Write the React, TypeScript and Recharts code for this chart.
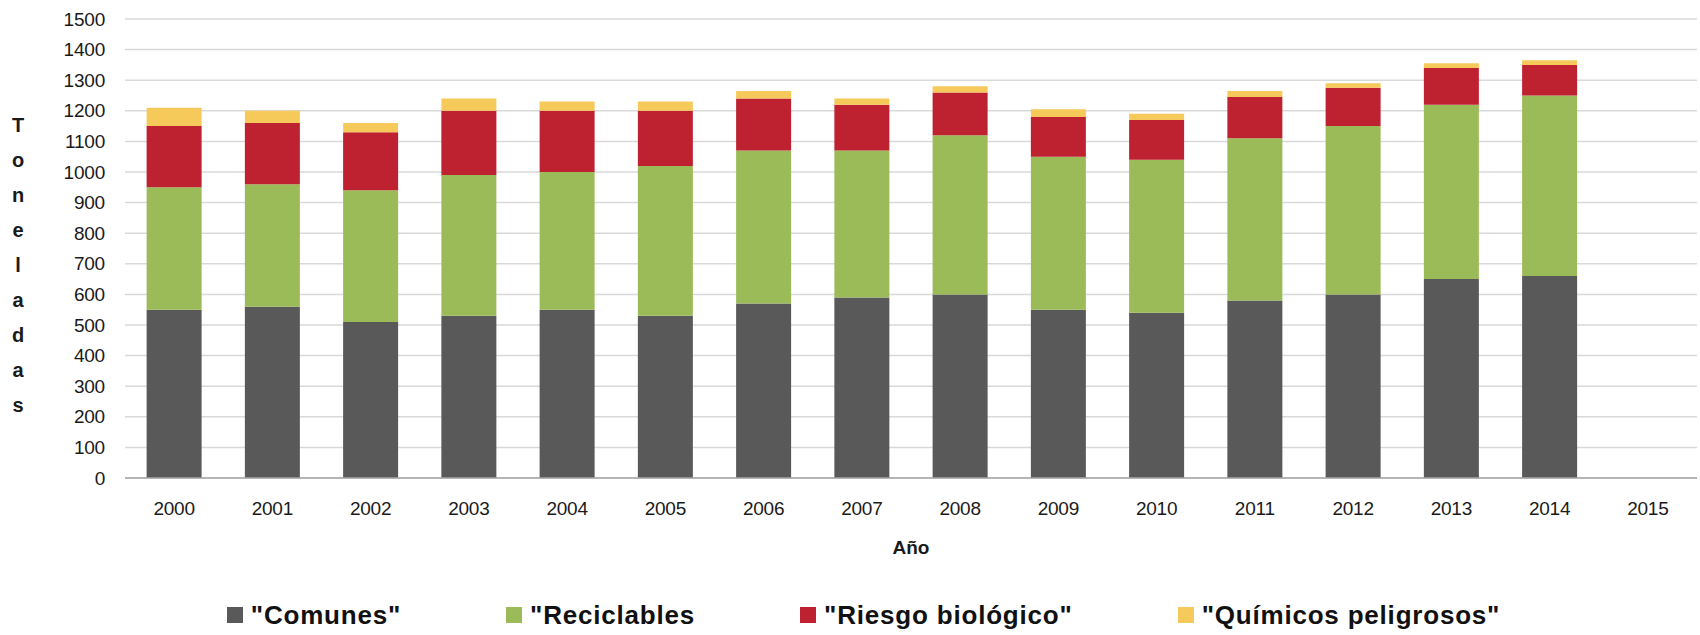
import { BarChart, Bar, XAxis, YAxis, CartesianGrid, Legend } from 'recharts';

const years = ['2000', '2001', '2002', '2003', '2004', '2005', '2006', '2007', '2008', '2009', '2010', '2011', '2012', '2013', '2014', '2015'];
const comunes = [550, 560, 510, 530, 550, 530, 570, 590, 600, 550, 540, 580, 600, 650, 660, null];
const reciclables = [400, 400, 430, 460, 450, 490, 500, 480, 520, 500, 500, 530, 550, 570, 590, null];
const riesgo = [200, 200, 190, 210, 200, 180, 170, 150, 140, 130, 130, 135, 125, 120, 100, null];
const quimicos = [60, 40, 30, 40, 30, 30, 25, 20, 20, 25, 20, 20, 15, 15, 15, null];
const yTicks = [0, 100, 200, 300, 400, 500, 600, 700, 800, 900, 1000, 1100, 1200, 1300, 1400, 1500];

const series = [
    { key: 'comunes', name: '"Comunes"', color: '#595959' },
    { key: 'reciclables', name: '"Reciclables', color: '#9BBB59' },
    { key: 'riesgo', name: '"Riesgo biológico"', color: '#BE2130' },
    { key: 'quimicos', name: '"Químicos peligrosos"', color: '#F6CA5A' },
];

const data = years.map((y, i) => ({
    year: y,
    comunes: comunes[i],
    reciclables: reciclables[i],
    riesgo: riesgo[i],
    quimicos: quimicos[i],
}));

const FONT = '"Liberation Sans", Arial, sans-serif';

/* eslint-disable @typescript-eslint/no-explicit-any */
function XTick({ x, y, payload }: any) {
    return (
        <text x={x} y={y + 28} textAnchor="middle" dominantBaseline="central" fontSize={19} fill="#1a1a1a" fontFamily={FONT} letterSpacing={-0.2}>
            {payload.value}
        </text>
    );
}

function YTick({ x, y, payload }: any) {
    return (
        <text x={x} y={y} textAnchor="end" dominantBaseline="central" fontSize={19} fill="#1a1a1a" fontFamily={FONT} letterSpacing={-0.2}>
            {payload.value}
        </text>
    );
}

function YLabel({ viewBox }: any) {
    const letters = 'Toneladas'.split('');
    const cy = viewBox.y + viewBox.height / 2 + 16;
    return (
        <g>
            {letters.map((ch, i) => (
                <text
                    key={i}
                    x={18}
                    y={cy + (i - 4) * 35}
                    textAnchor="middle"
                    dominantBaseline="central"
                    fontSize={20}
                    fontWeight="bold"
                    fill="#1a1a1a"
                    fontFamily={FONT}
                >
                    {ch}
                </text>
            ))}
        </g>
    );
}

function XLabel({ viewBox }: any) {
    return (
        <text
            x={viewBox.x + viewBox.width / 2}
            y={viewBox.y + 69}
            textAnchor="middle"
            dominantBaseline="central"
            fontSize={19}
            fontWeight="bold"
            fill="#1a1a1a"
            fontFamily={FONT}
        >
            Año
        </text>
    );
}

function LegendContent() {
    return (
        <div style={{ height: 30, display: 'flex', justifyContent: 'center', alignItems: 'center', gap: 105, paddingLeft: 30, fontFamily: FONT }}>
            {series.map((s) => (
                <div key={s.key} style={{ display: 'flex', alignItems: 'center' }}>
                    <span style={{ width: 16, height: 16, background: s.color, display: 'inline-block', marginRight: 8 }} />
                    <span style={{ fontSize: 26, fontWeight: 'bold', letterSpacing: 0.8, color: '#111', whiteSpace: 'nowrap' }}>{s.name}</span>
                </div>
            ))}
        </div>
    );
}

export default function App() {
    return (
        <div style={{ position: 'absolute', left: 0, top: 0, width: 1700, height: 635, background: '#fff' }}>
            <BarChart width={1700} height={635} data={data} margin={{ top: 19, right: 3, bottom: 5, left: 0 }} barCategoryGap="22%">
                <CartesianGrid vertical={false} stroke="#D9D9D9" strokeWidth={1.5} />
                <XAxis
                    dataKey="year"
                    height={122}
                    tickLine={false}
                    tickSize={0}
                    axisLine={{ stroke: '#A6A6A6', strokeWidth: 1.5 }}
                    tick={<XTick />}
                    interval={0}
                    label={<XLabel />}
                />
                <YAxis
                    width={125}
                    domain={[0, 1500]}
                    ticks={yTicks}
                    interval={0}
                    axisLine={false}
                    tickLine={false}
                    tickSize={0}
                    tickMargin={20}
                    tick={<YTick />}
                    label={<YLabel />}
                />
                <Legend verticalAlign="bottom" content={<LegendContent />} />
                {series.map((s) => (
                    <Bar key={s.key} dataKey={s.key} name={s.name} stackId="a" fill={s.color} isAnimationActive={false} />
                ))}
            </BarChart>
        </div>
    );
}
